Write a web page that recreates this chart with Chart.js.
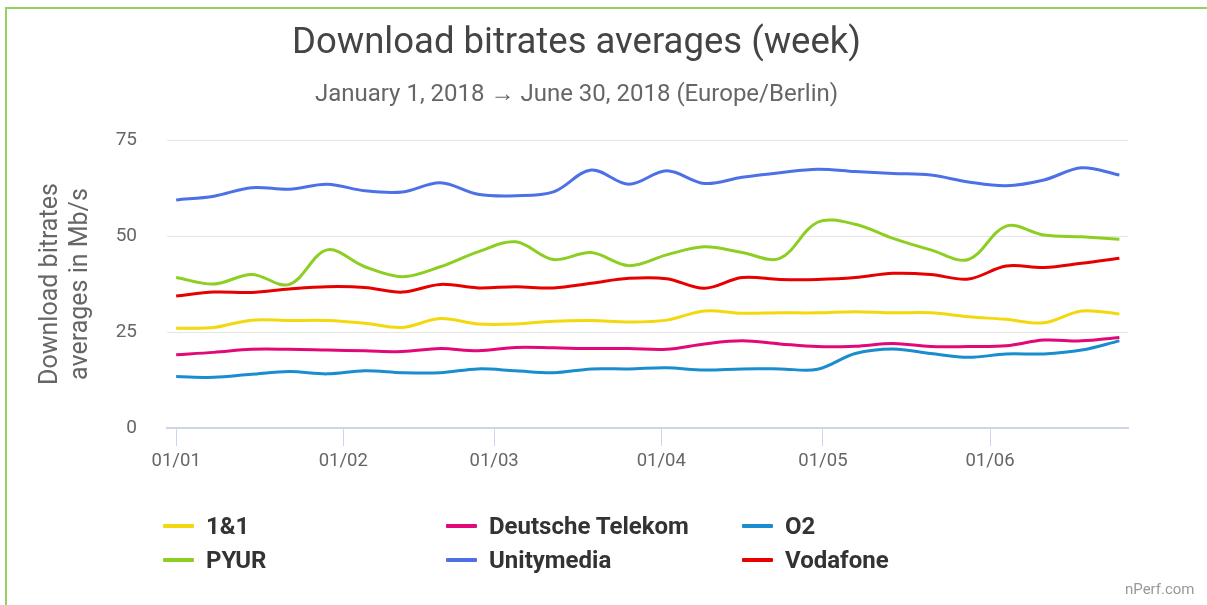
<!DOCTYPE html>
<html>
<head>
<meta charset="utf-8">
<script src="https://cdn.jsdelivr.net/npm/chart.js@4.4.1/dist/chart.umd.min.js"></script>
<style>
  html, body { margin: 0; padding: 0; background: #fff; }
  body { width: 1207px; height: 605px; position: relative; overflow: hidden; font-family: Roboto, "Noto Sans", sans-serif; }
  #c { position: absolute; left: 0; top: 0; }
  .bt { position: absolute; left: 6px; top: 7px; width: 1201px; height: 2px; background: #93d35b; }
  .bl { position: absolute; left: 5px; top: 7px; width: 2px; height: 598px; background: #93d35b; }
  #legend { position: absolute; left: 0; top: 0; width: 1207px; height: 605px; pointer-events: none; }
  .li { position: absolute; height: 30px; display: flex; align-items: center; font: bold 24px Roboto, sans-serif; color: #333; white-space: nowrap; }
  .li .sw { width: 31px; height: 4px; margin-right: 12px; border-radius: 1px; }
  .credit { position: absolute; left: 1125px; top: 580px; font: 15px Roboto, sans-serif; color: #999; }
</style>
</head>
<body>
<div class="bt"></div>
<div class="bl"></div>
<canvas id="c" width="1207" height="605"></canvas>
<div id="legend"></div>
<div class="credit">nPerf.com</div>
<script>
// ---- data ----
const weekStarts = ['2018-01-01','2018-01-08','2018-01-15','2018-01-22','2018-01-29','2018-02-05','2018-02-12','2018-02-19','2018-02-26','2018-03-05','2018-03-12','2018-03-19','2018-03-26','2018-04-02','2018-04-09','2018-04-16','2018-04-23','2018-04-30','2018-05-07','2018-05-14','2018-05-21','2018-05-28','2018-06-04','2018-06-11','2018-06-18','2018-06-25'];
const monthTickDates = ['2018-01-01','2018-02-01','2018-03-01','2018-04-01','2018-05-01','2018-06-01'];
const monthTickLabels = ['01/01','01/02','01/03','01/04','01/05','01/06'];
const yTicks = [0, 25, 50, 75];

const seriesNames = ['1&1', 'Deutsche Telekom', 'O2', 'PYUR', 'Unitymedia', 'Vodafone'];
const oneAndOne = [26.0, 26.2, 28.1, 28.0, 28.0, 27.3, 26.2, 28.5, 27.1, 27.1, 27.8, 28.0, 27.6, 28.1, 30.5, 29.9, 30.0, 30.0, 30.3, 30.0, 30.0, 29.0, 28.3, 27.4, 30.5, 29.7];
const deutscheTelekom = [19.1, 19.7, 20.5, 20.5, 20.3, 20.1, 19.9, 20.7, 20.1, 21.0, 20.9, 20.7, 20.7, 20.5, 21.9, 22.7, 21.9, 21.2, 21.3, 22.0, 21.2, 21.2, 21.4, 22.9, 22.7, 23.6];
const o2 = [13.4, 13.2, 14.0, 14.7, 14.1, 14.9, 14.4, 14.4, 15.4, 14.9, 14.4, 15.4, 15.4, 15.7, 15.1, 15.4, 15.4, 15.3, 19.4, 20.6, 19.4, 18.4, 19.3, 19.3, 20.3, 22.7];
const pyur = [39.2, 37.5, 40.0, 37.4, 46.4, 42.0, 39.4, 42.0, 45.9, 48.5, 43.9, 45.7, 42.3, 45.1, 47.2, 45.7, 44.2, 53.6, 53.1, 49.4, 46.4, 43.9, 52.6, 50.3, 49.8, 49.2];
const unitymedia = [59.4, 60.4, 62.6, 62.2, 63.5, 61.8, 61.5, 63.9, 60.9, 60.5, 61.5, 67.2, 63.5, 67.0, 63.7, 65.3, 66.5, 67.4, 66.8, 66.3, 65.9, 64.1, 63.1, 64.6, 67.8, 65.9];
const vodafone = [34.4, 35.4, 35.3, 36.2, 36.8, 36.6, 35.4, 37.4, 36.5, 36.8, 36.5, 37.7, 39.0, 38.9, 36.4, 39.2, 38.7, 38.7, 39.2, 40.3, 40.0, 38.8, 42.2, 41.8, 42.9, 44.2];

const seriesValues = [oneAndOne, deutscheTelekom, o2, pyur, unitymedia, vodafone];
const seriesColors = ['#f2d80c', '#e2087a', '#1a8dcf', '#8ccf22', '#4d70e6', '#e60000'];

// ---- helpers ----
const base = Date.UTC(2018, 0, 1);
function dayOf(s) { const p = s.split('-').map(Number); return (Date.UTC(p[0], p[1]-1, p[2]) - base) / 86400000; }
const weekDays = weekStarts.map(dayOf);
const monthDays = monthTickDates.map(dayOf);

const datasets = seriesNames.map((name, i) => ({
  label: name,
  data: weekDays.map((d, j) => ({ x: d, y: seriesValues[i][j] })),
  borderColor: seriesColors[i],
  backgroundColor: seriesColors[i],
  borderWidth: 3,
  pointRadius: 0,
  pointHoverRadius: 0,
  tension: 0.35,
  fill: false
}));

const tickColor = '#666';
new Chart(document.getElementById('c'), {
  type: 'line',
  data: { datasets },
  options: {
    responsive: false,
    animation: false,
    devicePixelRatio: 1,
    layout: { padding: { left: 25, right: 79, top: 0, bottom: 0 } },
    plugins: {
      legend: { display: false },
      tooltip: { enabled: false },
      title: {
        display: true,
        text: 'Download bitrates averages (week)',
        color: '#444',
        font: { family: 'Roboto', size: 36.5, weight: 'normal', lineHeight: 1.2 },
        padding: { top: 22, bottom: 0 }
      },
      subtitle: {
        display: true,
        text: 'January 1, 2018 \u2192 June 30, 2018 (Europe/Berlin)',
        color: '#666',
        font: { family: 'Roboto', size: 24, weight: 'normal', lineHeight: 1.2 },
        padding: { top: 15, bottom: 30.5 }
      }
    },
    scales: {
      x: {
        type: 'linear',
        min: -1.7,
        max: 176.6,
        afterBuildTicks: (scale) => { scale.ticks = monthDays.map(v => ({ value: v })); },
        afterFit: (scale) => { scale.height = 177; },
        ticks: {
          autoSkip: false,
          maxRotation: 0,
          padding: 4,
          color: tickColor,
          font: { family: 'Roboto', size: 18.5 },
          callback: (v) => { const k = monthDays.indexOf(v); return k >= 0 ? monthTickLabels[k] : ''; }
        },
        grid: { display: true, drawOnChartArea: false, drawTicks: true, tickLength: 18, color: '#ccd6eb', lineWidth: 1 },
        border: { display: true, color: '#ccd6eb', width: 2 }
      },
      y: {
        min: 0,
        max: 75,
        afterBuildTicks: (scale) => { scale.ticks = yTicks.map(v => ({ value: v })); },
        afterFit: (scale) => { scale.width = 142; },
        ticks: { padding: 30, color: tickColor, font: { family: 'Roboto', size: 19 } },
        grid: { color: '#e6e6e6', lineWidth: 1, drawTicks: false },
        border: { display: false },
        title: {
          display: true,
          text: ['Download bitrates', 'averages in Mb/s'],
          color: tickColor,
          font: { family: 'Roboto', size: 25, lineHeight: 1.2 },
          padding: { top: 11, bottom: 0 }
        }
      }
    }
  }
});

// ---- legend (HTML, 3-column grid like the reference) ----
const legendCols = [163, 446, 742];
const legendRows = [526, 560];
const lg = document.getElementById('legend');
seriesNames.forEach((name, i) => {
  const el = document.createElement('div');
  el.className = 'li';
  el.style.left = legendCols[i % 3] + 'px';
  el.style.top = (legendRows[Math.floor(i / 3)] - 15) + 'px';
  const sw = document.createElement('span');
  sw.className = 'sw';
  sw.style.background = seriesColors[i];
  const tx = document.createElement('span');
  tx.textContent = name;
  el.appendChild(sw); el.appendChild(tx);
  lg.appendChild(el);
});
</script>
</body>
</html>
